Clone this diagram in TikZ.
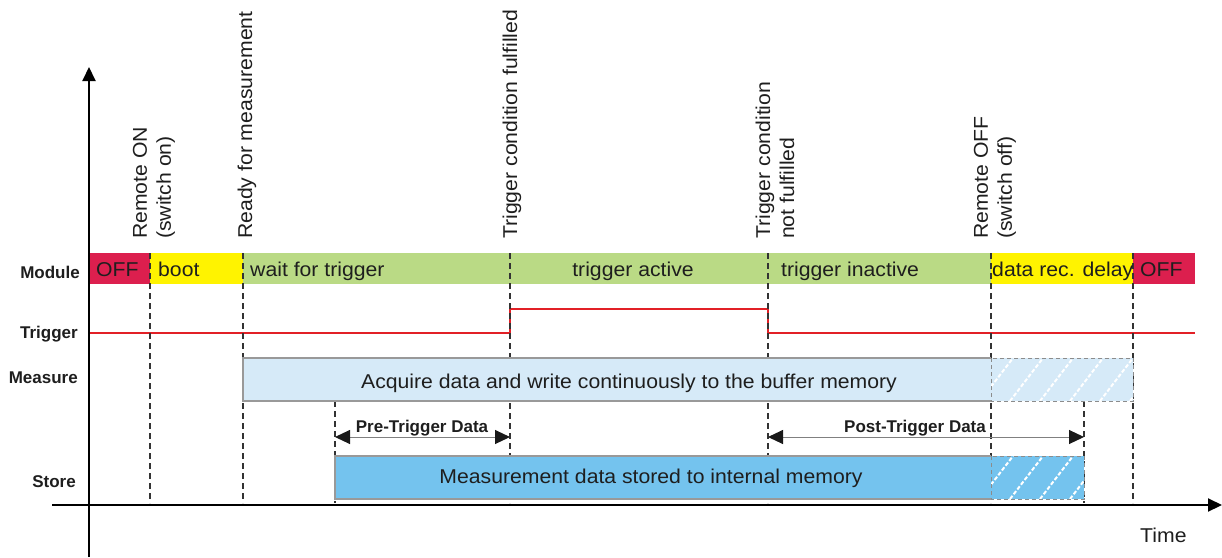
\documentclass[tikz,border=0pt]{standalone}
\usepackage{fontspec}
\setmainfont{Liberation Sans}[FakeStretch=1.06]
\newfontfamily\lblfont{Liberation Sans}
\usetikzlibrary{arrows.meta}
\definecolor{offred}{RGB}{220,31,78}
\definecolor{bootyel}{RGB}{255,243,0}
\definecolor{waitgreen}{RGB}{186,218,133}
\definecolor{measblue}{RGB}{214,234,248}
\definecolor{storeblue}{RGB}{116,195,238}
\definecolor{trigred}{RGB}{226,32,38}
\definecolor{txtdark}{RGB}{30,30,30}
\begin{document}
\begin{tikzpicture}[x=1pt,y=-1pt,
  txt/.style={font=\fontsize{20}{24}\selectfont, text=txtdark, inner sep=0pt},
  rlbl/.style={txt, rotate=90, anchor=west, align=left},
  lbl/.style={font=\lblfont\bfseries\fontsize{17}{19}\selectfont, text=txtdark, inner sep=0pt, anchor=east},
  dimlbl/.style={font=\lblfont\bfseries\fontsize{17}{19}\selectfont, text=txtdark, inner sep=0pt, anchor=base},
  vdash/.style={draw=black!80, line width=1.6pt, dash pattern=on 6pt off 4pt},
  axis/.style={draw=black, line width=2pt, -{Triangle[length=14pt,width=13pt]}},
  tip/.style={Triangle[length=15pt,width=14pt,fill=black!90,color=black!90]},
  dimarrow/.style={draw=black!50, line width=1pt, {Triangle[length=15pt,width=14pt,fill=black!90,color=black!90]}-{Triangle[length=15pt,width=14pt,fill=black!90,color=black!90]}},
  boxline/.style={draw=black!40, line width=1.2pt},
  hatchborder/.style={draw=black!45, line width=1pt, dash pattern=on 4pt off 3pt},
  hatchline/.style={draw=white, line width=2pt, dash pattern=on 4pt off 2pt},
  trig/.style={draw=trigred, line width=1.8pt}
]
\useasboundingbox (0,0) rectangle (1222,557);

% module bar
\fill[offred] (89,253) rectangle (150,284);
\fill[bootyel] (150,253) rectangle (243,284);
\fill[waitgreen] (243,253) rectangle (991,284);
\fill[bootyel] (991,253) rectangle (1133,284);
\fill[offred] (1133,253) rectangle (1195,284);

% trigger signal
\coordinate (trgA) at (89,333);
\coordinate (trgB) at (510,333);
\coordinate (trgC) at (510,309);
\coordinate (trgD) at (768,309);
\coordinate (trgE) at (768,333);
\coordinate (trgF) at (1195,333);
\draw[trig] (trgA) -- (trgB) -- (trgC) -- (trgD) -- (trgE) -- (trgF);

% dashed event lines
\foreach \n/\x/\t in {ron/150/253, rdy/243/253, pre/335/401, tf/510/253, tn/768/253, roff/991/253, post/1084/401, end/1133/253}{
  \coordinate (\n top) at (\x,\t);
  \coordinate (\n bot) at (\x,503);
  \draw[vdash] (\n top) -- (\n bot);
}

\node[txt, anchor=base west] (off1) at (96,276) {OFF};
\node[txt, anchor=base west] (boot) at (158,276) {boot};
\node[txt, anchor=base west] (wait) at (250,276) {wait for trigger};
\node[txt, anchor=base] (active) at (633,276) {trigger active};
\node[txt, anchor=base west] (inactive) at (781,276) {trigger inactive};
\node[txt, anchor=base west] (delay) at (992,276) {data rec. delay};
\node[txt, anchor=base west] (off2) at (1140,276) {OFF};

% measure box
\fill[measblue] (243,358) rectangle (991,401);
\draw[boxline] (991,358) -- (243,358) -- (243,401) -- (991,401);
\fill[measblue] (991,358) rectangle (1133,401);
\begin{scope}
  \clip (991,358) rectangle (1133,401);
  \foreach \s in {950,980,...,1140} \draw[hatchline] (\s,401) -- ++(33,-43);
\end{scope}
\draw[hatchborder] (991,358) rectangle (1133,401);
\node[txt, anchor=base] (acq) at (629,388) {Acquire data and write continuously to the buffer memory};

% store box
\fill[storeblue] (335,456) rectangle (991,499);
\draw[boxline] (991,456) -- (335,456) -- (335,499) -- (991,499);
\fill[storeblue] (991,456) rectangle (1084,499);
\begin{scope}
  \clip (991,456) rectangle (1084,499);
  \foreach \s in {950,980,...,1090} \draw[hatchline] (\s,499) -- ++(33,-43);
\end{scope}
\draw[hatchborder] (991,456) rectangle (1084,499);
\node[txt, anchor=base] (stored) at (651,483) {Measurement data stored to internal memory};

% axes
\coordinate (yb) at (89,557);
\coordinate (yt) at (89,67);
\coordinate (xl) at (52,505);
\coordinate (xr) at (1222,505);
\draw[axis] (yb) -- (yt);
\draw[axis] (xl) -- (xr);
\node[txt, anchor=base west] (time) at (1140,542) {Time};

% row labels
\node[lbl] (lmod) at (80,272) {Module};
\node[lbl] (ltrig) at (78,334) {Trigger};
\node[lbl] (lmeas) at (78,378) {Measure};
\node[lbl] (lstore) at (76,482) {Store};

% pre/post trigger arrows
\coordinate (preL) at (335,437);
\coordinate (preR) at (510,437);
\coordinate (postL) at (768,437);
\coordinate (postR) at (1084,437);
\draw[dimarrow] (preL) -- (preR);
\draw[dimarrow] (postL) -- (postR);
\node[dimlbl] (pretxt) at (422,432) {Pre-Trigger Data};
\node[dimlbl] (posttxt) at (915,432) {Post-Trigger Data};

% rotated event labels
\node[rlbl] (eron) at (154,239) {Remote ON\\(switch on)};
\node[rlbl] (erdy) at (247,239) {Ready for measurement};
\node[rlbl] (etf) at (512,239) {Trigger condition fulfilled};
\node[rlbl] (etn) at (775,239) {Trigger condition\\not fulfilled};
\node[rlbl] (eroff) at (995,239) {Remote OFF\\(switch off)};
\end{tikzpicture}
\end{document}
